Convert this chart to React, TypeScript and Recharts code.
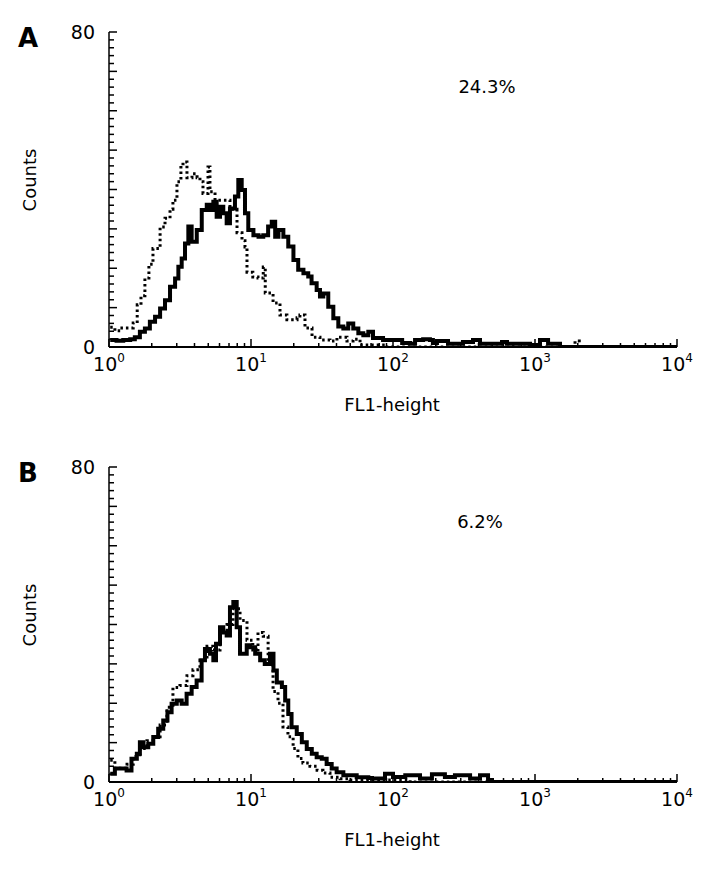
import React from "react";
import { LineChart, Line, XAxis, YAxis } from "recharts";

// ---------- Panel A data (FL1-height value, counts) ----------
const SOLID_A_X = [1.02, 1.13, 1.26, 1.41, 1.52, 1.65, 1.79, 1.94, 2.11, 2.29, 2.48, 2.69, 2.92, 3.08, 3.25, 3.43, 3.62, 3.82, 4.15, 4.5, 4.88, 5.14, 5.43, 5.73, 6.05, 6.38, 6.74, 7.11, 7.71, 8.14, 8.6, 9.07, 9.57, 10.4, 11.3, 12.2, 13.2, 14.0, 14.8, 15.6, 16.9, 18.3, 19.9, 21.5, 23.4, 25.3, 26.7, 29.0, 30.6, 32.3, 35.0, 38.0, 41.2, 44.7, 48.4, 52.5, 57.0, 61.8, 67.0, 72.3, 85.1, 107, 116, 132, 143, 163, 182, 191, 204, 225, 244, 282, 311, 366, 410, 482, 586, 635, 923, 1084, 1236, 1500, 10000];
const SOLID_A_Y = [1.8, 1.6, 1.8, 2.0, 2.5, 3.9, 4.7, 6.4, 7.7, 9.8, 11.9, 15.3, 17.4, 20.4, 22.5, 26.3, 30.6, 26.7, 29.7, 34.8, 36.1, 34.8, 36.9, 33.1, 35.6, 34.0, 31.4, 35.2, 38.2, 42.4, 39.9, 34.0, 29.7, 28.4, 28.0, 28.4, 30.6, 31.8, 28.0, 29.7, 28.0, 25.5, 22.1, 19.6, 18.7, 17.9, 16.2, 14.5, 12.8, 13.6, 10.2, 7.3, 5.2, 4.7, 6.0, 4.7, 3.5, 3.0, 3.9, 2.3, 1.8, 1.8, 1.0, 0.8, 1.8, 2.0, 1.8, 1.0, 1.5, 1.5, 0.8, 0.8, 1.3, 1.8, 0.8, 0.8, 1.3, 0.8, 0.5, 1.8, 0.8, 0, 0];

const DOTTED_A_X = [1.02, 1.1, 1.2, 1.34, 1.48, 1.58, 1.68, 1.79, 1.91, 2.04, 2.29, 2.48, 2.69, 2.82, 3.01, 3.21, 3.32, 3.54, 3.84, 4.17, 4.37, 4.59, 4.98, 5.14, 5.58, 6.25, 7.11, 7.97, 8.64, 9.07, 9.37, 10.3, 11.2, 12.2, 12.6, 14.3, 16.0, 17.9, 21.1, 22.1, 24.0, 26.9, 30.6, 36.0, 40.3, 47.4, 52.3, 58.6, 77.1, 87.8, 1800, 1914, 2050, 10000];
const DOTTED_A_Y = [5.0, 4.1, 4.8, 4.8, 6.1, 10.7, 13.0, 17.5, 21.0, 25.0, 30.5, 32.7, 35.0, 37.3, 42.0, 46.0, 47.0, 43.0, 44.0, 43.0, 42.0, 39.0, 45.7, 39.4, 37.3, 37.3, 35.0, 29.0, 27.0, 25.4, 19.0, 17.8, 17.5, 20.3, 13.7, 11.2, 8.1, 6.9, 7.4, 8.1, 4.8, 2.5, 1.8, 1.5, 2.5, 1.5, 2.0, 0.5, 0.5, 0, 0, 1.5, 0, 0];

// ---------- Panel B data ----------
const SOLID_B_X = [1.02, 1.1, 1.23, 1.33, 1.44, 1.57, 1.65, 1.75, 1.89, 2.05, 2.22, 2.41, 2.58, 2.76, 3.0, 3.25, 3.52, 3.82, 4.14, 4.49, 4.74, 5.14, 5.43, 5.67, 6.05, 6.38, 6.74, 7.11, 7.51, 7.93, 8.37, 8.83, 9.33, 9.84, 10.7, 11.6, 12.5, 13.6, 14.4, 15.2, 16.5, 17.4, 18.3, 19.3, 21.0, 22.8, 24.7, 26.8, 29.0, 31.5, 34.1, 37.0, 40.1, 44.7, 55.5, 67.0, 71.1, 87.8, 100, 122, 155, 188, 232, 273, 349, 410, 467, 498, 10000];
const SOLID_B_Y = [2.1, 3.4, 3.4, 2.9, 5.9, 7.2, 10.1, 8.8, 9.7, 11.4, 13.5, 15.6, 17.7, 19.9, 20.7, 19.9, 22.4, 24.1, 25.8, 30.9, 33.8, 32.6, 30.9, 35.1, 39.3, 38.0, 37.2, 44.4, 45.7, 39.3, 32.6, 32.6, 34.7, 34.2, 32.6, 30.9, 30.0, 32.6, 28.3, 25.3, 24.1, 20.7, 17.3, 13.9, 12.2, 10.1, 8.4, 7.2, 6.3, 5.9, 4.6, 3.4, 2.5, 1.7, 1.2, 1.0, 0.9, 2.1, 1.3, 1.7, 0.9, 2.0, 1.3, 1.7, 0.9, 1.7, 0.5, 0, 0];

const DOTTED_B_X = [1.02, 1.1, 1.2, 1.34, 1.48, 1.65, 1.85, 2.04, 2.29, 2.56, 2.82, 3.16, 3.54, 3.9, 4.37, 4.9, 5.4, 6.05, 6.78, 7.47, 8.37, 9.37, 10.3, 11.2, 12.2, 13.2, 14.3, 15.5, 16.8, 18.2, 19.8, 21.4, 23.2, 26.0, 29.2, 32.1, 36.0, 42.4, 49.8, 112, 132, 10000];
const DOTTED_B_Y = [5.5, 3.5, 3.5, 4.5, 6.5, 8.5, 10.5, 11.5, 14.5, 19, 24, 24.5, 27, 28.5, 31, 34.5, 33.5, 38, 40, 44, 41, 36, 33.5, 38, 37, 30, 23, 20, 14, 11.5, 8.5, 6, 4.8, 4, 3, 2.3, 1.2, 0.8, 0.5, 0.5, 0, 0];

// ---------- Axes ----------
const X_MAJOR_TICKS = [1, 10, 100, 1000, 10000];
const X_MAJOR_LABELS = ["0", "1", "2", "3", "4"];
const X_MINOR_TICKS = [2, 3, 4, 5, 6, 7, 8, 9, 20, 30, 40, 50, 60, 70, 80, 90, 200, 300, 400, 500, 600, 700, 800, 900, 2000, 3000, 4000, 5000, 6000, 7000, 8000, 9000];
const Y_TICKS = [0, 2, 4, 6, 8, 10, 12, 14, 16, 18, 20, 22, 24, 26, 28, 30, 32, 34, 36, 38, 40, 42, 44, 46, 48, 50, 52, 54, 56, 58, 60, 62, 64, 66, 68, 70, 72, 74, 76, 78, 80];
const Y_MAJOR_TICKS = [0, 10, 20, 30, 40, 50, 60, 70, 80];
const Y_LABELED_TICKS = [0, 80];

const PANEL_LETTERS = ["A", "B"];
const PANEL_PERCENTS = ["24.3%", "6.2%"];
const X_TITLE = "FL1-height";
const Y_TITLE = "Counts";

const FONT = "'DejaVu Sans', Verdana, sans-serif";

const zip = (xs: number[], ys: number[]) => xs.map((x, i) => ({ x, y: ys[i] }));

const X_TICKS = [...X_MAJOR_TICKS, ...X_MINOR_TICKS].sort((a, b) => a - b);

const XTick = (props: any) => {
  const { x, y, payload } = props;
  const v = payload.value;
  const mi = X_MAJOR_TICKS.indexOf(v);
  const major = mi >= 0;
  return (
    <g>
      <line x1={x} x2={x} y1={y} y2={y - (major ? 8 : 4)} stroke="#000" strokeWidth={1.5} />
      {major && (
        <text x={x} y={y + 24} textAnchor="middle" fontSize={19} fontFamily={FONT} fill="#000">
          10
          <tspan dy={-9} fontSize={12}>{X_MAJOR_LABELS[mi]}</tspan>
        </text>
      )}
    </g>
  );
};

const YTick = (props: any) => {
  const { x, y, payload } = props;
  const v = payload.value;
  const major = Y_MAJOR_TICKS.includes(v);
  return (
    <g>
      <line x1={x} x2={x + (major ? 8 : 5)} y1={y} y2={y} stroke="#000" strokeWidth={1.5} />
      {Y_LABELED_TICKS.includes(v) && (
        <text x={x - 14} y={y} dy="0.36em" textAnchor="end" fontSize={19} fontFamily={FONT} fill="#000">
          {v}
        </text>
      )}
    </g>
  );
};

const W = 700;

function Panel({ idx, height, solid, dotted }: { idx: number; height: number; solid: any[]; dotted: any[] }) {
  const top = 24;
  const xAxisH = 60;
  const bottom = height - top - 315 - xAxisH;
  return (
    <div style={{ position: "relative", width: W, height }}>
      <LineChart width={W} height={height} margin={{ top, right: 31, left: 41, bottom }}>
        <XAxis
          type="number"
          dataKey="x"
          scale="log"
          domain={[1, 10000]}
          allowDataOverflow
          ticks={X_TICKS}
          interval={0}
          tick={(p: any) => <XTick {...p} />}
          tickLine={false}
          tickSize={0}
          tickMargin={0}
          height={xAxisH}
          axisLine={{ stroke: "#000", strokeWidth: 2 }}
        />
        <YAxis
          type="number"
          dataKey="y"
          domain={[0, 80]}
          allowDataOverflow
          ticks={Y_TICKS}
          interval={0}
          tick={(p: any) => <YTick {...p} />}
          tickLine={false}
          tickSize={0}
          tickMargin={0}
          width={60}
          axisLine={{ stroke: "#000", strokeWidth: 1.5 }}
        />
        <Line
          data={dotted}
          dataKey="y"
          type="stepAfter"
          stroke="#000"
          strokeWidth={3}
          strokeDasharray="2.5 3"
          dot={false}
          isAnimationActive={false}
        />
        <Line
          data={solid}
          dataKey="y"
          type="stepAfter"
          stroke="#000"
          strokeWidth={4}
          dot={false}
          isAnimationActive={false}
        />
      </LineChart>
      <svg
        width={W}
        height={height}
        style={{ position: "absolute", left: 0, top: 0, pointerEvents: "none" }}
      >
        <text x={10} y={39} fontSize={26} fontWeight="bold" fontFamily={FONT} fill="#000">
          {PANEL_LETTERS[idx]}
        </text>
        <text
          x={0}
          y={0}
          transform="translate(28,172) rotate(-90)"
          textAnchor="middle"
          fontSize={18}
          fontFamily={FONT}
          fill="#000"
        >
          {Y_TITLE}
        </text>
        <text x={idx === 0 ? 479 : 472} y={85} textAnchor="middle" fontSize={18} fontFamily={FONT} fill="#000">
          {PANEL_PERCENTS[idx]}
        </text>
        <text x={384} y={403} textAnchor="middle" fontSize={18} fontFamily={FONT} fill="#000">
          {X_TITLE}
        </text>
      </svg>
    </div>
  );
}

export default function App() {
  return (
    <div style={{ width: W, background: "#fff" }}>
      <Panel idx={0} height={435} solid={zip(SOLID_A_X, SOLID_A_Y)} dotted={zip(DOTTED_A_X, DOTTED_A_Y)} />
      <Panel idx={1} height={420} solid={zip(SOLID_B_X, SOLID_B_Y)} dotted={zip(DOTTED_B_X, DOTTED_B_Y)} />
    </div>
  );
}
